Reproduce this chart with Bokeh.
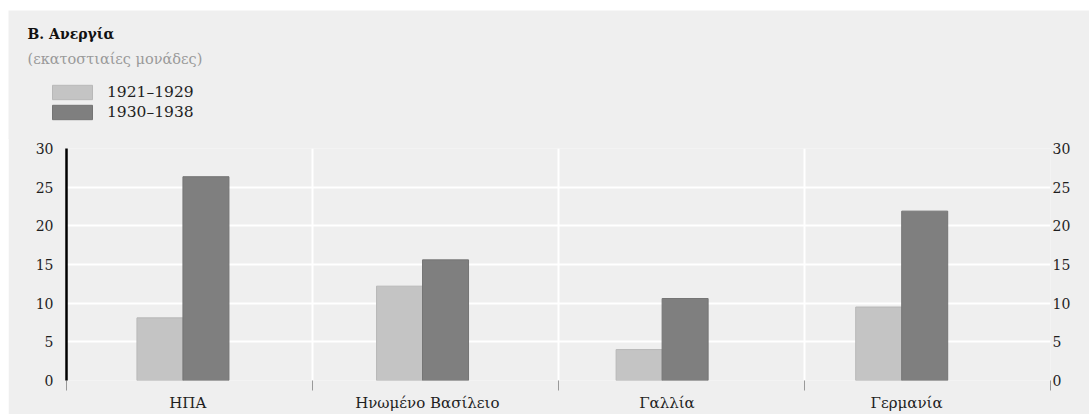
import numpy as np
from bokeh.plotting import figure
from bokeh.models import (ColumnDataSource, Range1d, LinearAxis, FixedTicker,
                          Legend, LegendItem, Label, Grid)
from bokeh.embed import file_html
from bokeh.resources import INLINE

# ---- data ----
categories = ["ΗΠΑ", "Ηνωμένο Βασίλειο", "Γαλλία", "Γερμανία"]
period_a = "1921–1929"
period_b = "1930–1938"
values_a = [8.1, 12.2, 4.0, 9.5]
values_b = [26.35, 15.6, 10.6, 21.9]
y_ticks = [0, 5, 10, 15, 20, 25, 30]

title_text = "Β. Ανεργία"
subtitle_text = "(εκατοστιαίες μονάδες)"

FONT = "DejaVu Serif"
BG = "#efefef"
LIGHT = "#c4c4c4"
DARK = "#7f7f7f"
TXT = "#1e1e1e"

W = 1081
HEAD_H = 129
MAIN_H = 276

idx = np.arange(len(categories)) + 0.5
bar_w = 0.192
src = ColumnDataSource(dict(xa=idx - bar_w / 2, xb=idx + bar_w / 2,
                            a=values_a, b=values_b, name=categories))

# ---------- header: title, subtitle, legend ----------
h = figure(width=W, height=HEAD_H, output_backend="svg", toolbar_location=None,
           x_range=Range1d(0, 1), y_range=Range1d(0, 1),
           x_axis_type=None, y_axis_type=None,
           min_border_left=0, min_border_right=0, min_border_top=0, min_border_bottom=0)
h.background_fill_color = BG
h.border_fill_color = BG
h.outline_line_color = None
h.xgrid.visible = False
h.ygrid.visible = False
h.margin = (10, 0, 0, 8)

h.add_layout(Label(x=19, y=HEAD_H - 23.5, x_units="screen", y_units="screen", text=title_text,
                   text_font=FONT, text_font_size="14px", text_font_style="bold",
                   text_color="#111111", text_baseline="middle"))
h.add_layout(Label(x=19, y=HEAD_H - 48.5, x_units="screen", y_units="screen", text=subtitle_text,
                   text_font=FONT, text_font_size="14.5px",
                   text_color="#9a9a9a", text_baseline="middle"))

# legend swatches: hidden copies of the bar renderers (only their legend glyphs show)
la = h.vbar(x="xa", top="a", width=0.1, source=src, fill_color=LIGHT,
            line_color="#b8b8b8", visible=False)
lb = h.vbar(x="xb", top="b", width=0.1, source=src, fill_color=DARK,
            line_color="#747474", visible=False)
legend = Legend(items=[LegendItem(label=period_a, renderers=[la]),
                       LegendItem(label=period_b, renderers=[lb])],
                location=(39, HEAD_H - 111), orientation="vertical")
legend.background_fill_alpha = 0
legend.border_line_color = None
legend.inactive_fill_alpha = 0
legend.padding = 0
legend.margin = 0
legend.spacing = 2
legend.glyph_width = 50
legend.glyph_height = 18
legend.label_height = 18
legend.label_standoff = 10
legend.label_text_font = FONT
legend.label_text_font_size = "15.5px"
legend.label_text_color = TXT
legend.label_text_baseline = "middle"
h.add_layout(legend)

# ---------- main chart ----------
p = figure(width=W, height=MAIN_H, output_backend="svg", toolbar_location=None,
           x_range=Range1d(0, len(categories)), y_range=Range1d(0, 30),
           min_border_left=58, min_border_right=39, min_border_top=10,
           min_border_bottom=33, x_axis_type=None, y_axis_location="left")
p.background_fill_color = BG
p.border_fill_color = BG
p.outline_line_color = None
p.margin = None
p.styles = {"margin": "-1px 0px 0px 8px"}

# bars are spaced slightly tighter than the grid cells in the original
p.extra_x_ranges = {"bars": Range1d(0.014, 4.121)}

ra = p.vbar(x="xa", top="a", width=bar_w, source=src, x_range_name="bars",
            fill_color=LIGHT, line_color="#b8b8b8", line_width=1)
rb = p.vbar(x="xb", top="b", width=bar_w, source=src, x_range_name="bars",
            fill_color=DARK, line_color="#747474", line_width=1)

# y axes
yl = p.yaxis[0]
yl.ticker = FixedTicker(ticks=y_ticks)
yl.axis_line_color = "black"
yl.axis_line_width = 2.5
yl.major_tick_line_color = None
yl.minor_tick_line_color = None
yl.major_tick_out = 0
yl.major_tick_in = 0
yl.major_label_text_font = FONT
yl.major_label_text_font_size = "14px"
yl.major_label_text_color = TXT
yl.major_label_standoff = 13

yr = LinearAxis(ticker=FixedTicker(ticks=y_ticks))
yr.axis_line_color = None
yr.major_tick_line_color = None
yr.minor_tick_line_color = None
yr.major_tick_out = 0
yr.major_tick_in = 0
yr.major_label_text_font = FONT
yr.major_label_text_font_size = "14px"
yr.major_label_text_color = TXT
yr.major_label_standoff = 2
p.add_layout(yr, "right")

# x axis 1: small tick marks at the cell boundaries
bounds = [float(v) for v in range(len(categories) + 1)]
xt = LinearAxis(ticker=FixedTicker(ticks=[], minor_ticks=bounds))
xt.axis_line_color = None
xt.major_tick_line_color = None
xt.minor_tick_line_color = "#999999"
xt.minor_tick_line_width = 1
xt.minor_tick_in = 0
xt.minor_tick_out = 10
xt.major_tick_out = 0
xt.major_tick_in = 0
xt.major_label_standoff = 0
p.add_layout(xt, "below")

# x axis 2: category labels under the bar pairs
label_ticks = [float(v) for v in (idx + 0.02)]
xl = LinearAxis(ticker=FixedTicker(ticks=label_ticks), x_range_name="bars")
xl.major_label_overrides = {t: n for t, n in zip(label_ticks, categories)}
xl.axis_line_color = None
xl.major_tick_line_color = None
xl.minor_tick_line_color = None
xl.major_tick_out = 0
xl.major_tick_in = 0
xl.major_label_standoff = 3
xl.major_label_text_font = FONT
xl.major_label_text_font_size = "15px"
xl.major_label_text_color = TXT
p.add_layout(xl, "below")

# grids
p.ygrid.ticker = FixedTicker(ticks=y_ticks)
p.ygrid.grid_line_color = "white"
p.ygrid.grid_line_width = 2
p.xgrid.visible = False
vg = Grid(dimension=0, ticker=FixedTicker(ticks=bounds),
          grid_line_color="white", grid_line_width=2)
p.add_layout(vg)

open("out.html", "w").write(file_html([h, p], INLINE))
